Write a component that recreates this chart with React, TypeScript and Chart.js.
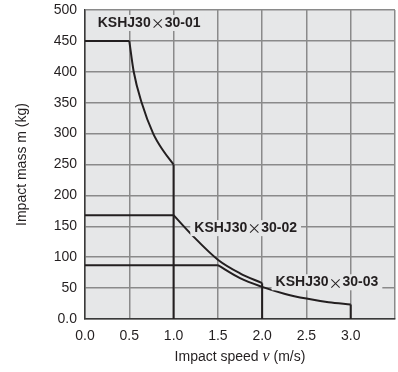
import React, { useEffect, useRef } from "react";
import { Chart, registerables } from "chart.js";

Chart.register(...registerables);

// ---- data ----
const xTickLabels = ["0.0", "0.5", "1.0", "1.5", "2.0", "2.5", "3.0", ""];
const yTickLabels = ["0.0", "50", "100", "150", "200", "250", "300", "350", "400", "450", "500"];

const seriesNames = ["KSHJ30×30-01", "KSHJ30×30-02", "KSHJ30×30-03"];

// speed (m/s) and mass (kg): flat start, curve, then vertical drop
const v01 = [0, 0.5, 0.55, 0.64, 0.77, 0.88, 1.0, 1.0];
const m01 = [450, 450, 400, 350, 300, 273, 250, 0];

const v02 = [0, 1.0, 1.2, 1.5, 1.75, 2.0, 2.0];
const m02 = [168, 168, 137, 96, 74, 58, 0];

const v03 = [0, 1.5, 1.75, 2.0, 2.25, 2.5, 2.75, 3.0, 3.0];
const m03 = [87, 87, 66, 52, 41, 33, 27, 23.5, 0];

// label anchors (left edge, vertical centre) in data units
const labelAnchorV = [0.144, 1.234, 2.152];
const labelAnchorM = [479, 147, 59.4];

const LINE = "#231f20";
const PLOT_BG = "#e6e7e8";
const GRID = "#8a8a8a";

function buildDatasets(vs: number[], ms: number[]) {
  const pts = vs.map((v, i) => ({ x: v, y: ms[i] }));
  const n = pts.length;
  const base = {
    borderColor: LINE,
    borderWidth: 2,
    pointRadius: 0,
    fill: false,
  };
  return [
    { ...base, data: pts.slice(0, 2), tension: 0 },
    { ...base, data: pts.slice(1, n - 1), cubicInterpolationMode: "monotone" as const },
    { ...base, data: pts.slice(n - 2), tension: 0 },
  ];
}

const bgPlugin = {
  id: "plotBg",
  beforeDraw(chart: any) {
    const { ctx, chartArea } = chart;
    ctx.save();
    ctx.fillStyle = PLOT_BG;
    ctx.fillRect(chartArea.left, chartArea.top, chartArea.right - chartArea.left, chartArea.bottom - chartArea.top);
    ctx.restore();
  },
};

function drawPieces(ctx: CanvasRenderingContext2D, pieces: { t: string; f: string }[], x: number, y: number, measureOnly = false) {
  let w = 0;
  for (const p of pieces) {
    ctx.font = p.f;
    if (!measureOnly) ctx.fillText(p.t, x + w, y);
    w += ctx.measureText(p.t).width;
  }
  return w;
}

const labelPlugin = {
  id: "seriesLabels",
  afterDatasetsDraw(chart: any) {
    const { ctx, scales } = chart;
    ctx.save();
    ctx.textBaseline = "middle";
    ctx.textAlign = "left";
    seriesNames.forEach((name, i) => {
      const idx = name.indexOf("×");
      const pieces = [
        { t: name.slice(0, idx), f: "bold 14px 'Liberation Sans', Arial, sans-serif" },
        { t: "×", f: "14px 'Noto Sans CJK JP', sans-serif" },
        { t: name.slice(idx + 1), f: "bold 14px 'Liberation Sans', Arial, sans-serif" },
      ];
      const x = scales.x.getPixelForValue(labelAnchorV[i]);
      const y = scales.y.getPixelForValue(labelAnchorM[i]);
      const w = drawPieces(ctx, pieces, x, y, true);
      ctx.fillStyle = PLOT_BG;
      ctx.fillRect(x - 4, y - 8, w + 8, 16);
      ctx.fillStyle = LINE;
      drawPieces(ctx, pieces, x, y);
    });
    ctx.restore();
  },
};

const xTitlePlugin = {
  id: "xTitle",
  afterDraw(chart: any) {
    const { ctx, chartArea } = chart;
    ctx.save();
    ctx.fillStyle = LINE;
    ctx.textBaseline = "middle";
    ctx.textAlign = "left";
    const pieces = [
      { t: "Impact speed ", f: "14px 'Liberation Sans', Arial, sans-serif" },
      { t: "v", f: "italic 16px 'Liberation Serif', serif" },
      { t: " (m/s)", f: "14px 'Liberation Sans', Arial, sans-serif" },
    ];
    const w = drawPieces(ctx, pieces, 0, 0, true);
    const cx = (chartArea.left + chartArea.right) / 2;
    drawPieces(ctx, pieces, cx - w / 2, 357);
    ctx.restore();
  },
};

export default function App() {
  const ref = useRef<HTMLCanvasElement>(null);
  useEffect(() => {
    if (!ref.current) return;
    const datasets = [
      ...buildDatasets(v01, m01),
      ...buildDatasets(v02, m02),
      ...buildDatasets(v03, m03),
    ];
    const chart = new Chart(ref.current, {
      type: "line",
      data: { datasets: datasets as any },
      options: {
        responsive: false,
        animation: false,
        layout: { padding: { top: 10, right: 3, left: 0, bottom: 0 } },
        plugins: { legend: { display: false }, tooltip: { enabled: false } },
        scales: {
          x: {
            type: "linear",
            min: 0,
            max: 3.5,
            ticks: {
              stepSize: 0.5,
              padding: 9,
              color: LINE,
              font: { family: "'Liberation Sans', Arial, sans-serif", size: 14 },
              callback: (_v: any, i: number) => xTickLabels[i],
              maxRotation: 0,
            },
            grid: { color: GRID, lineWidth: 1.5, drawTicks: false },
            border: { display: true, color: "#3a3a3a", width: 1.5 },
            afterFit: (s: any) => {
              s.height = 53;
              s.paddingLeft = 0;
              s.paddingRight = 0;
            },
          },
          y: {
            type: "linear",
            min: 0,
            max: 500,
            ticks: {
              stepSize: 50,
              padding: 8,
              color: LINE,
              font: { family: "'Liberation Sans', Arial, sans-serif", size: 14 },
              callback: (_v: any, i: number) => yTickLabels[i],
            },
            grid: { color: GRID, lineWidth: 1.5, drawTicks: false },
            border: { display: true, color: "#3a3a3a", width: 1.5 },
            title: {
              display: true,
              text: "Impact mass m (kg)",
              color: LINE,
              font: { family: "'Liberation Sans', Arial, sans-serif", size: 14 },
              padding: { top: 14, bottom: 0 },
            },
            afterFit: (s: any) => {
              s.width = 85;
              s.paddingTop = 0;
              s.paddingBottom = 0;
            },
          },
        },
      },
      plugins: [bgPlugin, labelPlugin, xTitlePlugin],
    });
    return () => chart.destroy();
  }, []);
  return (
    <div style={{ position: "absolute", left: 0, top: 0, width: 398, height: 372 }}>
      <canvas ref={ref} width={398} height={372} style={{ width: 398, height: 372 }} />
    </div>
  );
}
